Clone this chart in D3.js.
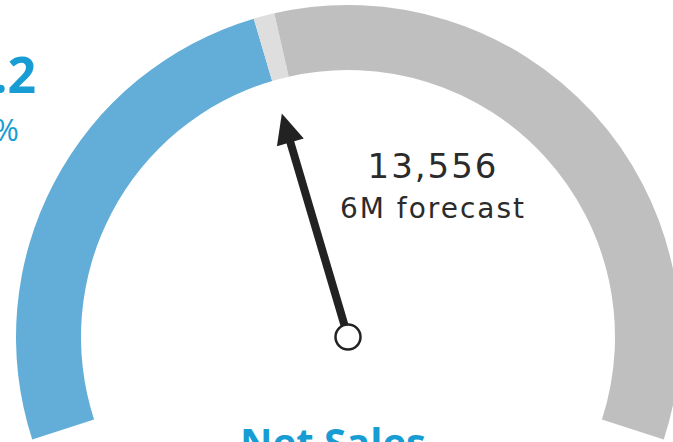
<!DOCTYPE html>
<html>
<head>
<meta charset="utf-8">
<script src="https://cdn.jsdelivr.net/npm/d3@7"></script>
<style>
    html, body { margin: 0; padding: 0; background: #fff; overflow: hidden; }
    svg { display: block; }
</style>
</head>
<body>
<svg id="chart" width="673" height="442"></svg>
<script>
// gauge data
var gaugeMax = 32000;
var bandNames = ['actual', 'gap', 'rest'];
var bandStarts = [0, 13556, 14100];
var bandEnds = [13556, 14100, 32000];
var bandColors = ['#62aed9', '#dedede', '#bfbfbf'];

var forecastValue = 13556;
var forecastLabel = '6M forecast';
var kpiValue = '1.2';
var kpiDelta = '3%';
var title = 'Net Sales';

var svg = d3.select('#chart');

var cx = 348,
    cy = 337,
    outerR = 332,
    innerR = 267;

// value -> angle (radians, 0 = straight up)
var angle = d3.scaleLinear()
    .domain([0, gaugeMax])
    .range([-108 * Math.PI / 180, 108 * Math.PI / 180]);

var g = svg.append('g')
    .attr('transform', 'translate(' + cx + ',' + cy + ')');

var arc = d3.arc()
    .innerRadius(innerR)
    .outerRadius(outerR);

g.selectAll('path.band')
    .data(bandNames)
    .enter()
    .append('path')
    .attr('class', 'band')
    .attr('d', function(d, i) {
        return arc({ startAngle: angle(bandStarts[i]), endAngle: angle(bandEnds[i]) });
    })
    .style('fill', function(d, i) { return bandColors[i]; });

// needle
var a = angle(forecastValue);
var tipR = 233,
    headR = 203,
    headW = 14,
    shaftW = 4;

function pt(r, off) {
    // point at radius r along the needle, off = sideways offset
    var sx = Math.sin(a), sy = -Math.cos(a);
    return [sx * r + Math.cos(a) * off, sy * r + Math.sin(a) * off];
}

var needle = g.append('g');

needle.append('path')
    .attr('d', d3.line()([pt(0, -shaftW), pt(headR + 2, -shaftW), pt(headR + 2, shaftW), pt(0, shaftW)]) + 'Z')
    .style('fill', '#222');

needle.append('path')
    .attr('d', d3.line()([pt(tipR, 0), pt(headR, -headW), pt(headR, headW)]) + 'Z')
    .style('fill', '#222');

needle.append('circle')
    .attr('r', 12.5)
    .style('fill', '#fff')
    .style('stroke', '#222')
    .style('stroke-width', 2.5);

// forecast label
svg.append('text')
    .attr('x', 433)
    .attr('y', 178)
    .attr('text-anchor', 'middle')
    .style('font-family', '"DejaVu Sans", Verdana, sans-serif')
    .style('font-size', '34px')
    .style('letter-spacing', '2px')
    .style('fill', '#2b2b2b')
    .text(d3.format(',')(forecastValue));

svg.append('text')
    .attr('x', 433)
    .attr('y', 218)
    .attr('text-anchor', 'middle')
    .style('font-family', '"DejaVu Sans", Verdana, sans-serif')
    .style('font-size', '28px')
    .style('letter-spacing', '2px')
    .style('fill', '#2b2b2b')
    .text(forecastLabel);

// kpi on the left, cut by the frame
svg.append('text')
    .attr('x', 36)
    .attr('y', 93)
    .attr('text-anchor', 'end')
    .style('font-family', '"Open Sans", sans-serif')
    .style('font-weight', 'bold')
    .style('font-size', '50px')
    .style('fill', '#179dd3')
    .text(kpiValue);

svg.append('text')
    .attr('x', 19)
    .attr('y', 141)
    .attr('text-anchor', 'end')
    .style('font-family', '"Open Sans", sans-serif')
    .style('font-size', '31px')
    .style('fill', '#179dd3')
    .text(kpiDelta);

svg.append('text')
    .attr('x', 333)
    .attr('y', 457)
    .attr('text-anchor', 'middle')
    .style('font-family', '"Open Sans", sans-serif')
    .style('font-weight', 'bold')
    .style('font-size', '40px')
    .style('fill', '#179dd3')
    .text(title);
</script>
</body>
</html>
